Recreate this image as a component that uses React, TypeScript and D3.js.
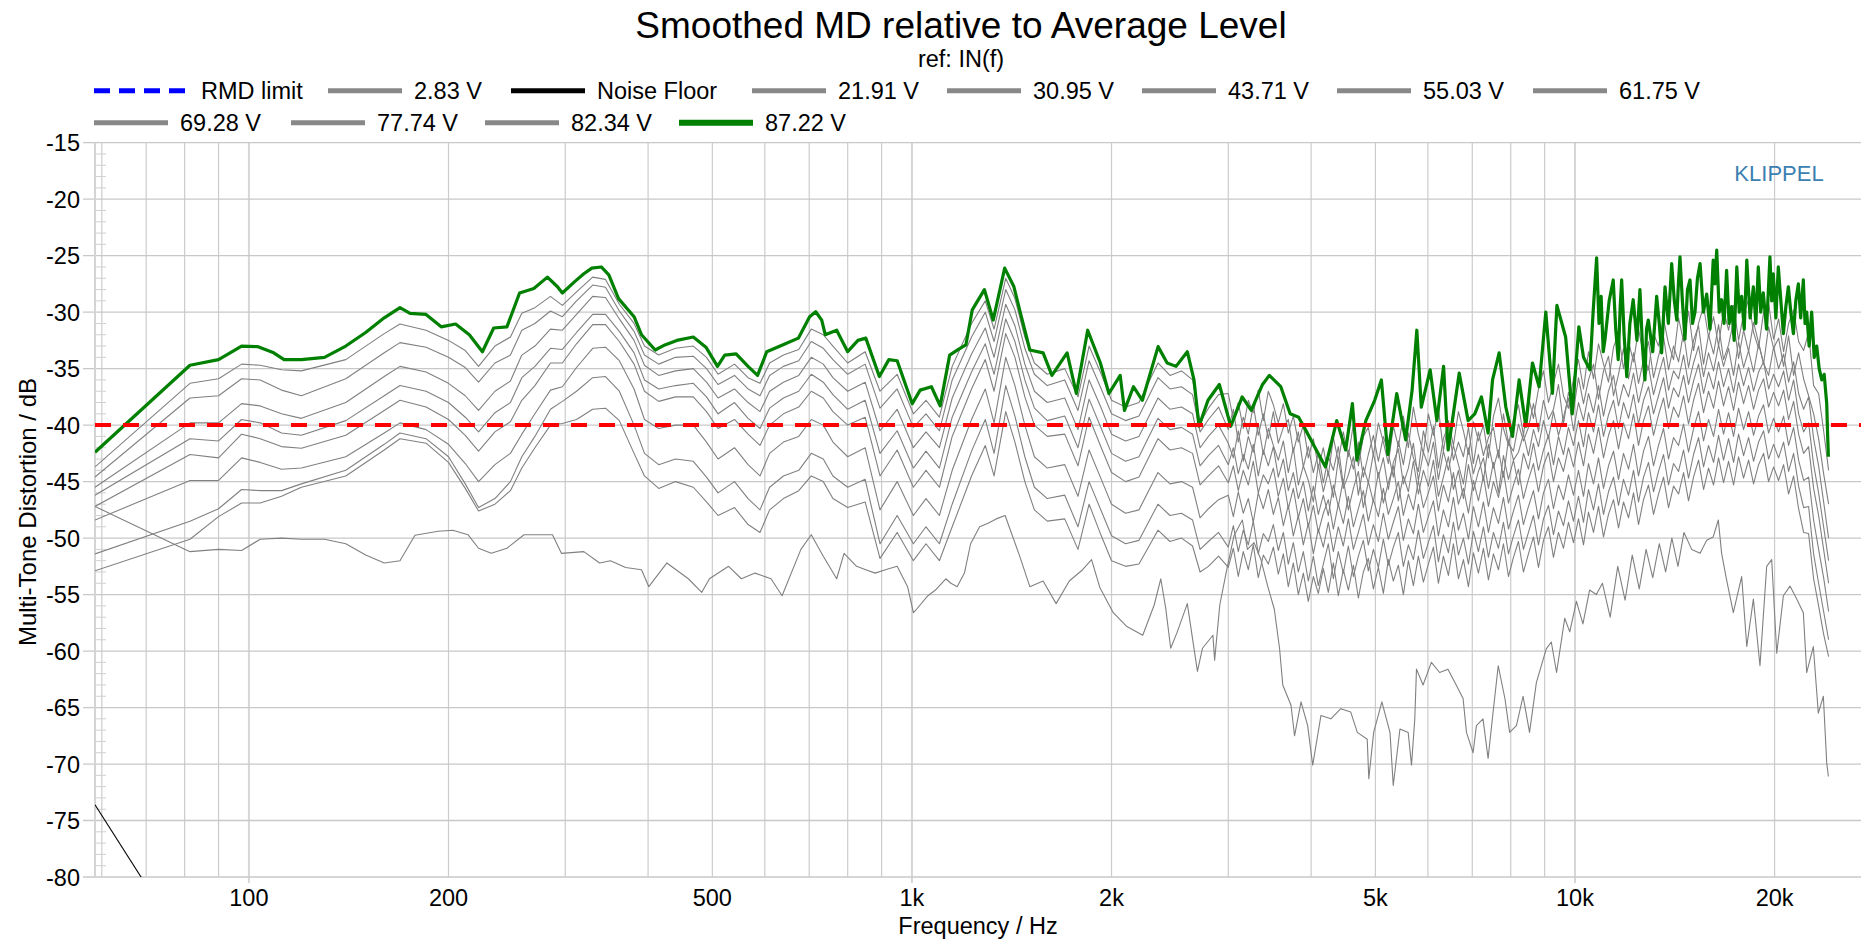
import React from 'react';
import * as d3 from 'd3';

// ---- data ----
const xTickValues = [100, 200, 500, 1000, 2000, 5000, 10000, 20000];
const xTickLabels = ['100', '200', '500', '1k', '2k', '5k', '10k', '20k'];
const xGridValues = [60, 70, 80, 90, 100, 200, 300, 400, 500, 600, 700, 800, 900, 1000, 2000, 3000, 4000, 5000, 6000, 7000, 8000, 9000, 10000, 20000];
const yTickValues = [-15, -20, -25, -30, -35, -40, -45, -50, -55, -60, -65, -70, -75, -80];

const rmdLimit = -40;

const noiseFloor: [number, number][] = [[58.6, -73.6], [70.5, -81]];

const md87_22: [number, number][] = [
  [58.6, -42.4], [81.5, -34.7], [90, -34.2], [97.5, -33.0], [103, -33.05], [109, -33.6], [113, -34.2], [120, -34.2], [130, -34.0], [140, -33.0],
  [150, -31.8], [160, -30.5], [169, -29.6], [175, -30.1], [185, -30.2], [195, -31.3], [205, -31.05], [215, -32.0], [225, -33.5], [234, -31.4],
  [245, -31.3], [256, -28.3], [269, -27.9], [282, -26.9], [292, -27.75], [297, -28.3], [310, -27.3], [320, -26.6], [329, -26.1], [340, -26.0],
  [349, -26.7], [361, -28.8], [381, -30.4], [391, -32.0], [410, -33.35], [424, -32.9], [442, -32.5], [468, -32.2], [489, -33.1], [509, -34.8],
  [522, -33.8], [543, -33.7], [566, -34.8], [585, -35.6], [604, -33.5], [638, -32.9], [674, -32.3], [701, -30.4], [716, -29.96], [731, -30.7],
  [740, -32.0], [770, -31.6], [800, -33.5], [829, -32.5], [852, -32.3], [893, -35.7], [923, -34.2], [950, -34.3], [1001, -38.1], [1029, -36.9],
  [1070, -36.6], [1103, -38.3], [1140, -33.8], [1175, -33.3], [1206, -32.9], [1233, -29.8], [1286, -28.0], [1326, -30.7], [1380, -26.1], [1424, -27.7],
  [1458, -30.1], [1506, -33.35], [1577, -33.6], [1626, -35.6], [1714, -33.6], [1770, -37.2], [1841, -31.6], [1924, -34.5], [1982, -37.2], [2061, -35.6],
  [2092, -38.7], [2158, -36.6], [2226, -37.8], [2351, -33.05], [2426, -34.5], [2502, -34.8], [2602, -33.5], [2663, -36.0], [2710, -40.1], [2796, -37.8],
  [2908, -36.4], [3026, -40.1], [3148, -37.5], [3249, -38.7], [3379, -36.4], [3459, -35.6], [3600, -36.6], [3719, -39.0], [3830, -39.3], [3922, -40.4],
  [4046, -41.9], [4204, -43.7], [4372, -39.6], [4510, -42.2], [4616, -38.1], [4690, -43.1], [4837, -39.6], [4988, -37.8], [5105, -36.0], [5221, -42.6],
  [5385, -37.2], [5554, -41.3], [5680, -36.9], [5774, -31.6], [5864, -38.4], [6047, -35.1], [6190, -39.6], [6336, -34.8], [6437, -42.2], [6689, -35.4],
  [6900, -39.6], [7061, -39.0], [7226, -37.5], [7395, -40.7], [7510, -36.0], [7685, -33.6], [7865, -38.4], [8049, -41.0], [8237, -36.0], [8430, -40.1],
  [8627, -34.5], [8829, -36.6], [9036, -30.0], [9247, -37.2], [9391, -29.4], [9680, -32.2], [9905, -39.0], [10135, -31.3], [10300, -34.0], [10531, -35.1],
  [10650, -30.0], [10780, -25.2], [10870, -31.0], [10950, -28.6], [11030, -33.5], [11100, -32.4], [11260, -29.0], [11420, -27.15], [11520, -31.5], [11620, -34.2],
  [11700, -29.5], [11760, -27.15], [11860, -32.0], [11970, -35.7], [12100, -31.0], [12240, -28.9], [12400, -32.5], [12530, -28.0], [12640, -33.0], [12750, -36.0],
  [12820, -31.5], [12900, -30.7], [13100, -33.5], [13280, -28.6], [13400, -31.0], [13510, -33.6], [13670, -27.75], [13830, -31.0], [13990, -25.7], [14120, -29.0],
  [14240, -30.7], [14320, -27.5], [14400, -25.1], [14520, -29.0], [14650, -32.4], [14780, -28.0], [14910, -27.15], [15040, -31.0], [15170, -30.0], [15300, -27.0],
  [15440, -25.7], [15620, -30.0], [15800, -28.4], [15980, -31.5], [16160, -25.4], [16260, -27.5], [16360, -24.5], [16500, -30.0], [16640, -28.9], [16780, -31.0],
  [16930, -26.3], [17080, -31.0], [17230, -29.5], [17380, -32.5], [17540, -26.0], [17690, -30.0], [17840, -28.6], [18000, -31.5], [18160, -25.4], [18370, -30.5],
  [18580, -27.75], [18740, -31.0], [18900, -26.0], [19060, -30.0], [19230, -28.3], [19450, -31.5], [19680, -25.1], [19800, -29.0], [19910, -26.6], [20090, -30.5],
  [20260, -26.0], [20440, -29.0], [20620, -31.9], [20800, -29.5], [20980, -27.75], [21160, -30.0], [21350, -31.9], [21530, -29.0], [21720, -27.5], [21900, -30.5],
  [22100, -27.15], [22230, -31.0], [22360, -30.0], [22550, -33.0], [22750, -30.0], [22950, -34.0], [23150, -33.0], [23350, -35.0], [23560, -36.0], [23760, -35.5],
  [23970, -38.1], [24050, -41.0], [24110, -42.8],
];

const md2_83: [number, number][] = [
  [58.6, -47.2], [81.5, -51.2], [90, -51.0], [97.5, -51.1], [104, -50.1], [112, -50.0], [120, -50.1], [130, -50.1], [140, -50.5], [150, -51.5],
  [160, -52.2], [169, -52.0], [178, -49.75], [193, -49.4], [203, -49.3], [214, -49.7], [222, -50.9], [232, -51.35], [245, -50.9], [260, -49.7],
  [274, -49.7], [287, -49.7], [296, -51.35], [320, -51.2], [338, -52.2], [351, -52.0], [370, -52.6], [391, -52.8], [401, -54.3], [427, -52.2],
  [460, -53.6], [482, -54.8], [495, -53.6], [529, -52.5], [553, -53.6], [580, -53.1], [613, -53.6], [637, -55.1], [680, -51.0], [705, -49.7],
  [735, -51.6], [770, -53.6], [790, -51.35], [825, -52.5], [852, -52.8], [880, -53.1], [912, -52.8], [950, -52.5], [985, -54.3], [1005, -56.6],
  [1016, -56.3], [1057, -55.1], [1085, -54.6], [1125, -53.6], [1145, -54.0], [1170, -54.3], [1200, -53.1], [1226, -50.5], [1265, -49.0], [1300, -48.7],
  [1340, -48.3], [1382, -48.0], [1450, -51.4], [1506, -54.3], [1577, -53.8], [1650, -55.8], [1727, -53.8], [1809, -52.8], [1866, -51.9], [1921, -54.4],
  [2012, -56.6], [2106, -57.8], [2229, -58.6], [2320, -55.9], [2373, -53.6], [2414, -56.2], [2456, -59.75], [2513, -58.3], [2602, -55.8], [2695, -61.8],
  [2743, -59.75], [2844, -58.6], [2861, -60.8], [2913, -55.9], [2985, -52.75], [3060, -49.8], [3150, -48.4], [3206, -51.0], [3281, -50.4], [3360, -51.9],
  [3440, -54.25], [3520, -56.3], [3585, -59.8], [3625, -63.0], [3730, -64.8], [3776, -67.5], [3862, -64.5], [3952, -66.6], [4022, -70.1], [4139, -65.7],
  [4284, -66.0], [4434, -65.1], [4590, -65.4], [4696, -67.2], [4860, -67.8], [4887, -71.3], [4970, -67.2], [5114, -64.5], [5260, -67.2], [5320, -71.9],
  [5445, -66.9], [5603, -67.2], [5668, -70.1], [5733, -66.0], [5767, -61.6], [5900, -63.0], [6073, -61.0], [6250, -61.9], [6432, -61.6], [6620, -63.0],
  [6780, -64.2], [6860, -67.2], [7020, -69.0], [7101, -66.6], [7266, -66.0], [7395, -69.5], [7525, -65.4], [7660, -61.3], [7840, -64.2], [7970, -67.2],
  [8160, -66.6], [8350, -64.0], [8540, -67.2], [8745, -62.8], [9050, -59.8], [9210, -59.2], [9380, -61.9], [9650, -57.1], [9820, -58.3], [10050, -55.6],
  [10280, -57.6], [10520, -54.6], [10770, -55.0], [11000, -54.0], [11300, -57.0], [11600, -52.5], [11900, -55.5], [12200, -51.5], [12500, -54.5], [12800, -51.0],
  [13100, -53.5], [13400, -50.5], [13700, -53.0], [14000, -50.0], [14300, -52.5], [14600, -49.5], [15000, -51.0], [15440, -51.35], [15800, -50.2], [16160, -49.9],
  [16450, -48.4], [16640, -51.35], [16930, -53.7], [17330, -56.6], [17840, -53.4], [18160, -59.6], [18580, -55.4], [19010, -61.3], [19460, -52.5], [19800, -51.9],
  [20150, -60.2], [20620, -55.1], [21100, -54.25], [21600, -55.4], [22100, -56.6], [22360, -61.9], [22880, -59.6], [23280, -65.5], [23690, -64.0], [23970, -69.9],
  [24110, -71.1],
];

// shared frequency grid of the grey (intermediate voltage) curves
const grayFreqs = [
  58.6, 81.5, 90, 97.5, 104, 112, 120, 140, 160, 169, 185, 200, 212, 222, 235, 248, 258, 270, 285, 297,
  312, 330, 345, 362, 381, 395, 415, 440, 468, 490, 510, 540, 566, 590, 610, 640, 675, 705, 735, 760,
  800, 850, 895, 950, 1005, 1050, 1100, 1150, 1230, 1290, 1330, 1385, 1430, 1480, 1530, 1600, 1700, 1780, 1850, 1930,
  2000, 2100, 2200, 2350, 2450, 2550, 2650, 2720, 2800, 2900,
  3000, 3053, 3106, 3160, 3216, 3272, 3329, 3388, 3447, 3508, 3569, 3632, 3695, 3760, 3826, 3893, 3961, 4031, 4101, 4173,
  4246, 4321, 4396, 4473, 4552, 4632, 4713, 4795, 4879, 4965, 5052, 5140, 5230, 5322, 5415, 5510, 5607, 5705, 5805, 5907,
  6010, 6116, 6223, 6332, 6443, 6556, 6671, 6788, 6907, 7028, 7151, 7276, 7404, 7534, 7666, 7800, 7937, 8076, 8217, 8361,
  8508, 8657, 8809, 8963, 9120, 9280, 9443, 9608, 9776, 9948, 10122, 10300, 10480, 10664, 10851, 11041, 11234, 11431, 11632, 11835,
  12043, 12254, 12469, 12687, 12909, 13136, 13366, 13600, 13838, 14081, 14328, 14579, 14834, 15094, 15358, 15628, 15901, 16180, 16464, 16752,
  17046, 17345, 17649, 17958, 18273, 18593, 18919, 19250, 19588, 19931, 20280, 20636, 20997, 21365, 21740, 22121, 22508, 22903, 23304, 23713,
  24128,
];

const md82_34 = [
  -43.7, -36.3, -35.9, -34.6, -34.7, -35.1, -35.2, -34.2, -31.9, -31.05, -31.6, -32.5, -33.4, -34.8, -33.0, -32.2, -30.1, -29.6, -28.6, -29.4,
  -28.2, -26.9, -27.1, -29.3, -31.0, -33.0, -33.8, -33.2, -33.0, -34.0, -35.5, -34.6, -35.8, -36.3, -34.5, -33.8, -33.3, -31.5, -32.0, -33.0,
  -34.5, -33.5, -37.0, -35.5, -39.0, -37.8, -39.3, -34.8, -31.0, -29.0, -31.5, -27.0, -28.8, -32.2, -34.5, -35.5, -35.0, -37.5, -33.0, -35.5,
  -37.8, -38.4, -38.0, -34.5, -35.6, -35.2, -36.0, -39.8, -38.5, -37.3,
  -37.2, -39.5, -38.0, -40.3, -37.8, -38.9, -36.9, -39.6, -37.0, -38.2, -39.8, -38.1, -40.7, -39.2, -41.5, -40.0, -42.9, -41.2, -43.8, -42.0,
  -44.5, -41.1, -43.2, -40.6, -42.8, -39.9, -43.6, -41.0, -40.2, -42.7, -39.8, -41.5, -43.4, -40.1, -41.9, -39.2, -42.0, -38.4, -40.8, -42.5,
  -39.0, -40.9, -38.5, -42.3, -39.6, -41.8, -38.8, -40.5, -42.6, -39.7, -41.4, -40.0, -42.9, -39.2, -37.6, -40.3, -41.8, -39.5, -38.2, -40.9,
  -37.5, -39.4, -36.8, -35.2, -38.0, -36.3, -34.6, -37.4, -38.5, -35.9, -34.2, -36.8, -33.5, -35.9, -32.8, -34.6, -36.2, -33.1, -31.9, -35.0,
  -32.6, -34.4, -31.5, -33.8, -35.1, -31.9, -33.0, -30.6, -32.8, -34.2, -30.5, -32.6, -29.9, -33.4, -31.0, -29.5, -32.2, -30.4, -33.0, -29.8,
  -31.6, -29.4, -32.5, -30.2, -28.9, -31.8, -33.2, -30.0, -29.2, -32.4, -30.6, -33.5, -31.0, -29.8, -32.6, -33.4, -31.8, -36.5, -37.2, -40.5,
  -44.0,
];

const md77_74 = [
  -44.6, -37.6, -37.4, -35.9, -36.0, -36.9, -37.4, -35.9, -33.6, -32.7, -33.1, -34.0, -34.9, -36.2, -34.5, -33.8, -31.6, -31.0, -29.9, -30.4,
  -29.0, -27.6, -27.8, -29.9, -31.7, -33.8, -34.6, -34.0, -33.9, -35.0, -36.4, -35.6, -36.8, -37.4, -35.6, -34.8, -34.3, -32.6, -33.2, -34.2,
  -35.5, -34.6, -38.5, -36.8, -40.2, -39.0, -40.5, -36.0, -32.2, -30.0, -32.6, -28.0, -29.8, -33.2, -35.5, -36.5, -36.0, -38.7, -34.3, -36.8,
  -39.0, -39.6, -39.2, -35.8, -36.8, -36.6, -37.3, -40.6, -39.5, -38.4,
  -40.4, -38.6, -41.5, -39.3, -40.8, -38.2, -40.9, -39.0, -41.2, -38.8, -41.6, -40.2, -39.5, -42.4, -40.6, -43.7, -41.9, -44.2, -42.5, -45.1,
  -42.8, -44.0, -41.9, -45.3, -42.2, -43.9, -41.5, -44.6, -42.6, -40.9, -43.2, -41.0, -42.5, -44.6, -41.4, -43.5, -40.7, -42.9, -44.1, -40.5,
  -42.4, -40.1, -43.8, -41.2, -40.0, -43.1, -41.5, -42.8, -40.2, -43.4, -40.6, -42.7, -41.1, -40.2, -42.9, -39.0, -41.6, -42.3, -39.9, -41.4,
  -40.2, -38.1, -40.6, -37.8, -39.5, -38.6, -36.4, -39.9, -37.1, -38.7, -35.8, -38.1, -36.0, -34.6, -37.7, -35.2, -33.9, -37.4, -35.5, -33.2,
  -35.9, -33.6, -36.3, -34.2, -32.6, -35.8, -33.9, -32.2, -35.1, -33.0, -34.4, -31.8, -34.9, -32.5, -31.2, -34.6, -32.0, -33.7, -31.1, -34.2,
  -32.9, -30.8, -34.1, -31.6, -33.5, -30.9, -32.7, -34.6, -31.3, -33.2, -32.3, -34.8, -32.1, -35.6, -33.6, -35.9, -37.4, -39.0, -41.2, -44.3,
  -47.0,
];

const md69_28 = [
  -45.5, -39.8, -39.8, -38.1, -38.3, -39.0, -39.4, -38.0, -35.7, -34.8, -35.3, -36.3, -37.4, -38.7, -37.0, -36.1, -33.8, -33.0, -31.5, -31.6,
  -30.2, -28.6, -28.7, -30.6, -32.5, -34.7, -35.6, -35.2, -35.0, -36.2, -37.6, -36.8, -38.0, -38.8, -37.0, -36.2, -35.6, -34.0, -34.6, -35.8,
  -37.0, -36.2, -40.5, -38.6, -42.0, -40.6, -42.0, -37.6, -33.7, -31.4, -34.0, -29.3, -31.2, -34.6, -37.0, -38.0, -37.6, -40.4, -36.0, -38.5,
  -40.8, -41.4, -41.0, -37.6, -38.6, -38.4, -39.0, -42.0, -41.0, -40.0,
  -41.6, -42.9, -40.5, -43.2, -41.0, -42.4, -39.9, -42.6, -40.3, -41.8, -43.1, -41.4, -44.2, -42.0, -45.3, -43.6, -44.9, -46.8, -43.5, -45.9,
  -44.1, -46.4, -43.0, -45.6, -44.4, -42.8, -46.2, -43.7, -45.1, -42.5, -44.6, -42.9, -45.7, -43.3, -42.1, -45.2, -43.8, -41.6, -44.9, -42.4,
  -43.6, -41.5, -44.8, -42.3, -44.0, -41.8, -43.5, -45.2, -42.0, -44.3, -42.6, -44.9, -41.7, -43.8, -42.2, -44.6, -41.3, -43.1, -42.4, -40.8,
  -42.7, -40.4, -41.9, -39.6, -41.2, -38.8, -40.9, -39.3, -37.6, -40.5, -38.0, -39.6, -37.2, -38.9, -36.5, -39.2, -37.0, -35.6, -38.3, -36.4,
  -37.5, -35.4, -38.0, -36.1, -34.8, -37.3, -35.6, -34.0, -36.9, -35.2, -35.9, -33.8, -36.4, -34.5, -33.0, -35.7, -33.6, -35.2, -32.9, -34.8,
  -33.2, -35.6, -32.6, -34.9, -33.4, -35.3, -32.8, -34.5, -35.6, -33.1, -35.0, -33.7, -36.2, -34.4, -37.2, -38.6, -37.5, -41.2, -43.6, -46.8,
  -50.0,
];

const md61_75 = [
  -46.2, -41.2, -41.4, -39.5, -39.8, -40.7, -40.9, -39.6, -37.4, -36.5, -37.0, -38.0, -39.3, -40.6, -38.9, -38.0, -35.8, -34.8, -33.2, -33.3,
  -31.8, -30.2, -30.2, -31.7, -33.6, -36.0, -36.8, -36.5, -36.3, -37.5, -39.0, -38.0, -39.4, -40.3, -38.5, -37.6, -37.0, -35.5, -36.2, -37.3,
  -38.6, -37.8, -42.5, -40.5, -43.8, -42.3, -43.8, -39.3, -35.3, -32.8, -35.5, -30.6, -32.6, -36.0, -38.5, -39.6, -39.2, -42.0, -37.7, -40.3,
  -42.5, -43.2, -42.8, -39.4, -40.4, -40.2, -40.8, -43.6, -42.7, -41.8,
  -43.5, -42.0, -44.3, -42.6, -43.9, -41.7, -44.5, -42.2, -43.6, -41.9, -44.6, -43.0, -45.8, -44.2, -46.5, -45.0, -47.6, -45.4, -47.9, -46.2,
  -48.0, -45.3, -47.2, -44.8, -47.5, -45.6, -44.1, -47.3, -45.0, -46.8, -44.2, -46.9, -45.1, -43.6, -46.7, -44.5, -45.9, -43.2, -46.1, -44.0,
  -45.4, -43.1, -46.3, -44.6, -42.8, -45.7, -44.0, -46.5, -43.5, -45.8, -44.1, -42.9, -45.6, -43.3, -46.0, -42.7, -44.8, -43.1, -45.3, -42.5,
  -43.9, -41.6, -44.0, -42.2, -40.9, -43.5, -41.0, -42.6, -40.2, -41.8, -39.6, -41.9, -38.9, -40.6, -38.2, -41.0, -39.1, -37.8, -40.3, -38.0,
  -39.4, -37.3, -39.9, -37.8, -36.6, -39.0, -37.4, -35.8, -38.5, -36.7, -37.5, -35.6, -38.0, -36.1, -34.6, -37.2, -35.3, -36.8, -34.4, -36.6,
  -35.0, -37.1, -34.6, -36.5, -34.9, -37.0, -35.3, -34.4, -36.8, -35.5, -36.6, -35.2, -37.8, -36.0, -39.0, -40.6, -39.8, -43.5, -46.0, -49.0,
  -52.0,
];

const md55_03 = [
  -47.2, -42.6, -42.9, -40.8, -41.2, -41.9, -42.05, -40.9, -38.7, -37.8, -38.4, -39.5, -40.9, -42.3, -40.6, -39.7, -37.8, -36.5, -34.5, -34.5,
  -32.8, -31.1, -31.1, -32.6, -34.6, -37.0, -37.9, -37.5, -37.5, -38.8, -40.3, -39.5, -40.8, -41.8, -40.0, -39.0, -38.4, -37.0, -37.6, -38.8,
  -40.0, -39.3, -44.5, -42.2, -45.5, -44.0, -45.5, -41.0, -36.8, -34.2, -37.0, -31.9, -34.0, -37.5, -40.0, -41.0, -40.8, -43.6, -39.3, -42.0,
  -44.2, -45.0, -44.6, -41.2, -42.2, -42.0, -42.5, -45.3, -44.5, -43.6,
  -45.1, -43.6, -45.8, -44.0, -45.3, -43.2, -46.0, -44.4, -45.2, -43.8, -46.3, -44.7, -47.4, -45.6, -48.2, -46.5, -49.0, -47.1, -49.5, -47.8,
  -46.6, -49.2, -47.0, -48.7, -46.3, -49.0, -47.4, -45.8, -48.5, -46.6, -48.1, -45.6, -47.9, -46.5, -45.0, -48.0, -46.1, -47.5, -44.9, -47.3,
  -46.0, -44.5, -47.6, -45.3, -46.8, -44.2, -47.0, -45.6, -47.8, -44.9, -46.7, -44.5, -47.2, -45.0, -46.4, -44.1, -46.9, -45.3, -43.9, -46.5,
  -44.8, -43.4, -45.9, -43.6, -42.4, -45.0, -42.9, -44.1, -42.0, -43.7, -41.5, -43.6, -40.8, -42.5, -40.2, -42.9, -40.9, -39.6, -42.1, -39.8,
  -41.2, -39.0, -41.8, -39.6, -38.3, -40.9, -39.1, -37.6, -40.3, -38.4, -39.3, -37.4, -39.9, -37.8, -36.3, -38.9, -37.0, -38.5, -36.1, -38.3,
  -36.6, -38.7, -36.2, -38.1, -36.5, -38.6, -36.9, -35.9, -38.4, -37.1, -38.3, -36.9, -39.5, -37.9, -40.8, -42.5, -41.9, -45.6, -48.0, -51.0,
  -54.0,
];

const md43_71 = [
  -48.4, -44.9, -44.9, -42.9, -43.3, -43.9, -43.8, -42.8, -40.7, -39.8, -40.4, -41.7, -43.4, -45.0, -43.5, -42.5, -40.8, -39.0, -36.9, -36.6,
  -34.9, -33.2, -33.1, -34.3, -36.8, -39.5, -40.3, -40.0, -40.0, -41.5, -43.0, -42.0, -43.5, -44.5, -42.5, -41.5, -41.0, -39.5, -40.0, -41.5,
  -42.8, -42.0, -47.5, -45.0, -48.0, -46.5, -48.0, -44.0, -39.5, -36.8, -39.8, -34.0, -36.5, -40.0, -42.8, -43.8, -43.5, -46.3, -42.2, -44.8,
  -47.0, -47.8, -47.5, -44.2, -45.2, -45.0, -45.5, -48.2, -47.4, -46.6,
  -46.2, -48.1, -45.9, -47.8, -46.5, -48.6, -46.0, -47.4, -45.7, -47.9, -46.4, -48.9, -47.1, -49.8, -48.0, -50.6, -48.7, -51.4, -49.2, -50.8,
  -48.6, -51.2, -49.0, -50.7, -48.3, -51.0, -49.5, -47.9, -50.6, -48.8, -50.3, -47.8, -50.1, -48.6, -47.2, -50.2, -48.3, -49.6, -47.0, -49.5,
  -48.1, -46.7, -49.8, -47.5, -49.0, -46.4, -49.3, -47.8, -50.1, -47.2, -49.0, -46.8, -49.5, -47.3, -48.7, -46.4, -49.2, -47.6, -46.2, -48.8,
  -47.2, -45.8, -48.3, -46.0, -44.8, -47.4, -45.3, -46.6, -44.4, -46.2, -44.0, -46.3, -43.4, -45.2, -42.9, -45.6, -43.6, -42.3, -44.8, -42.5,
  -43.9, -41.7, -44.5, -42.3, -41.0, -43.6, -41.8, -40.3, -43.0, -41.1, -41.8, -39.9, -42.4, -40.3, -38.8, -41.4, -39.5, -41.0, -38.6, -40.8,
  -38.9, -41.0, -38.5, -40.4, -38.8, -40.9, -39.2, -38.2, -40.7, -39.4, -40.6, -39.2, -41.8, -40.2, -43.1, -44.9, -44.6, -48.4, -51.0, -53.5,
  -56.5,
];

const md30_95 = [
  -51.4, -48.5, -47.4, -45.7, -45.8, -45.8, -45.2, -44.0, -41.7, -40.7, -41.2, -42.8, -45.2, -47.3, -46.5, -45.0, -42.8, -41.0, -38.6, -37.9,
  -37.0, -35.8, -35.7, -37.0, -40.0, -42.5, -43.5, -43.0, -43.2, -44.6, -46.0, -45.0, -46.5, -47.5, -45.5, -44.5, -44.0, -42.5, -43.0, -44.5,
  -45.5, -44.8, -50.5, -48.0, -50.5, -49.0, -50.5, -47.0, -42.3, -39.5, -42.5, -36.5, -39.2, -42.8, -45.5, -46.5, -46.2, -49.0, -45.0, -47.6,
  -49.8, -50.5, -50.2, -47.0, -48.0, -47.8, -48.4, -51.0, -50.3, -49.5,
  -50.8, -48.9, -51.2, -49.3, -50.6, -48.5, -51.4, -49.6, -50.3, -48.8, -51.1, -49.5, -52.3, -50.4, -53.0, -51.2, -53.8, -51.6, -54.2, -52.3,
  -50.5, -53.6, -51.2, -53.1, -50.7, -53.4, -51.6, -50.2, -52.9, -51.0, -52.6, -50.1, -52.4, -50.8, -49.5, -52.5, -50.6, -51.9, -49.3, -51.8,
  -50.4, -48.9, -52.1, -49.7, -51.3, -48.6, -51.5, -50.0, -52.3, -49.4, -51.2, -49.0, -51.7, -49.5, -50.9, -48.6, -51.4, -49.8, -48.4, -51.0,
  -49.5, -48.0, -50.6, -48.3, -47.1, -49.7, -47.6, -48.9, -46.7, -48.5, -46.3, -48.6, -45.7, -47.5, -45.2, -47.9, -45.9, -44.6, -47.1, -44.8,
  -46.2, -44.0, -46.8, -44.6, -43.3, -45.9, -44.1, -42.6, -45.3, -43.4, -44.1, -42.2, -44.7, -42.6, -41.1, -43.7, -41.8, -43.3, -40.9, -43.1,
  -41.2, -43.3, -40.8, -42.7, -41.1, -43.2, -41.5, -40.5, -43.0, -41.7, -42.9, -41.5, -44.1, -42.5, -45.4, -47.3, -47.2, -51.4, -54.0, -56.5,
  -59.0,
];

const md21_91 = [
  -52.9, -50.1, -48.1, -46.9, -46.9, -46.3, -45.5, -44.5, -42.2, -41.2, -41.6, -43.3, -45.6, -47.6, -47.0, -45.8, -43.8, -42.0, -40.0, -39.85,
  -39.5, -38.6, -38.5, -39.6, -42.5, -44.5, -45.6, -45.0, -45.5, -46.8, -48.0, -47.3, -48.8, -49.5, -47.5, -46.5, -45.8, -44.5, -45.0, -46.5,
  -47.3, -46.8, -51.8, -49.5, -52.0, -50.5, -52.0, -49.0, -44.5, -41.8, -44.5, -38.8, -41.5, -45.0, -47.5, -48.5, -48.3, -51.0, -47.0, -49.8,
  -52.0, -52.5, -52.3, -49.3, -50.3, -50.0, -50.7, -53.0, -52.5, -51.6,
  -52.6, -50.9, -53.4, -51.2, -52.8, -50.6, -53.5, -51.5, -52.3, -50.8, -53.2, -51.4, -54.3, -52.2, -55.0, -53.1, -55.6, -53.4, -54.9, -52.7,
  -54.8, -52.2, -55.1, -52.8, -54.6, -52.4, -55.3, -53.0, -51.8, -54.5, -52.6, -54.9, -51.9, -53.8, -52.4, -55.0, -52.0, -54.2, -51.6, -53.9,
  -52.3, -50.8, -54.0, -51.6, -53.3, -50.5, -53.6, -51.9, -54.3, -51.3, -53.1, -50.9, -53.7, -51.4, -52.8, -50.5, -53.4, -51.7, -50.3, -53.0,
  -51.4, -49.9, -52.6, -50.2, -49.0, -51.7, -49.5, -50.9, -48.6, -50.4, -48.3, -50.6, -47.7, -49.5, -47.2, -49.9, -47.9, -46.6, -49.1, -46.8,
  -48.2, -46.0, -48.8, -46.6, -45.3, -47.9, -46.1, -44.6, -47.3, -45.4, -46.1, -44.2, -46.7, -44.6, -43.1, -45.7, -43.8, -45.3, -42.9, -45.1,
  -43.2, -45.3, -42.8, -44.7, -43.1, -45.2, -43.5, -42.5, -45.0, -43.7, -44.9, -43.5, -46.1, -44.5, -47.4, -49.5, -49.6, -53.6, -56.0, -58.5,
  -60.5,
];

// drawing order = legend order (grey curves between the 2.83 V curve and the top level)
const grayLevels = [md21_91, md30_95, md43_71, md55_03, md61_75, md69_28, md77_74, md82_34];

const legendRow1 = ['RMD limit', '2.83 V', 'Noise Floor', '21.91 V', '30.95 V', '43.71 V', '55.03 V', '61.75 V'];
const legendRow2 = ['69.28 V', '77.74 V', '82.34 V', '87.22 V'];

// ---- layout ----
const W = 1861;
const H = 950;
const plot = { left: 95, right: 1861, top: 142.7, bottom: 877 };
const FONT = "'Liberation Sans', Arial, Helvetica, sans-serif";
const legendRow1X = [94, 328, 511, 752, 947, 1142, 1337, 1533];
const legendRow2X = [94, 291, 485, 679];

const legendStyle: Record<string, { color: string; dash?: string; len: number }> = {
  'RMD limit': { color: '#0000ff', dash: '16 9', len: 95 },
  'Noise Floor': { color: '#000000', len: 74 },
  '87.22 V': { color: '#008000', len: 74 },
};

const App: React.FC = () => {
  const x = d3.scaleLog().domain([58.6, 27000]).range([plot.left, plot.right]);
  const y = d3.scaleLinear().domain([-80, -15]).range([plot.bottom, plot.top]);

  const line = d3.line<[number, number]>()
    .x(d => x(d[0]))
    .y(d => y(d[1]));

  const grayPaths = grayLevels.map(vals =>
    line(grayFreqs.map((f, i) => [f, vals[i]] as [number, number]).filter(d => d[1] !== undefined)) || ''
  );

  const minorY = d3.range(-80, -15).filter(v => v % 5 !== 0);

  const legendItem = (label: string, lx: number, ly: number) => {
    const st = legendStyle[label] || { color: '#888888', len: 74 };
    return (
      <g key={label}>
        <line x1={lx} x2={lx + st.len} y1={ly} y2={ly} stroke={st.color} strokeWidth={label === '87.22 V' ? 6 : 5}
          strokeDasharray={st.dash} />
        <text x={lx + st.len + 12} y={ly + 8.5} fontSize={23.5} fill="#000">{label}</text>
      </g>
    );
  };

  return (
    <div style={{ position: 'absolute', left: 0, top: 0, width: W, height: H, background: '#fff' }}>
      <svg width={W} height={H} viewBox={`0 0 ${W} ${H}`} fontFamily={FONT}>
        <defs>
          <clipPath id="plotClip">
            <rect x={plot.left} y={plot.top} width={plot.right - plot.left} height={plot.bottom - plot.top} />
          </clipPath>
        </defs>
        <rect width={W} height={H} fill="#fff" />

        {/* title */}
        <text x={961} y={38} textAnchor="middle" fontSize={37} fill="#000">Smoothed MD relative to Average Level</text>
        <text x={961} y={67} textAnchor="middle" fontSize={23.5} fill="#000">ref: IN(f)</text>

        {/* legend */}
        {legendRow1.map((l, i) => legendItem(l, legendRow1X[i], 90.7))}
        {legendRow2.map((l, i) => legendItem(l, legendRow2X[i], 122.7))}

        {/* grid */}
        {xGridValues.map(v => {
          const decade = v === 100 || v === 1000 || v === 10000;
          return (
            <line key={'gx' + v} x1={x(v)} x2={x(v)} y1={plot.top} y2={decade ? plot.bottom + 6 : plot.bottom}
              stroke={decade ? '#d6d6d6' : '#cccccc'} strokeWidth={decade ? 2 : 1.2} />
          );
        })}
        {yTickValues.map(v => (
          <line key={'gy' + v} x1={83} x2={plot.right} y1={y(v)} y2={y(v)} stroke="#c8c8c8" strokeWidth={1.3} />
        ))}
        {minorY.map(v => (
          <line key={'my' + v} x1={plot.left} x2={plot.left + 11} y1={y(v)} y2={y(v)} stroke="#d0d0d0" strokeWidth={1} />
        ))}
        <line x1={plot.left} x2={plot.left} y1={plot.top} y2={plot.bottom} stroke="#d4d4d4" strokeWidth={2} />

        {/* tick labels */}
        {yTickValues.map(v => (
          <text key={'ty' + v} x={80} y={y(v) + 8.5} textAnchor="end" fontSize={23.5} fill="#000">{v}</text>
        ))}
        {xTickValues.map((v, i) => (
          <text key={'tx' + v} x={x(v)} y={906} textAnchor="middle" fontSize={23.5} fill="#000">{xTickLabels[i]}</text>
        ))}
        <text x={978} y={934} textAnchor="middle" fontSize={23.5} fill="#000">Frequency / Hz</text>
        <text transform={`translate(36, 512) rotate(-90)`} textAnchor="middle" fontSize={24} fill="#000">Multi-Tone Distortion / dB</text>

        <text x={1779} y={181} textAnchor="middle" fontSize={22} fill="#3c7fb1">KLIPPEL</text>

        {/* curves */}
        <g clipPath="url(#plotClip)" fill="none" strokeLinejoin="round">
          <path d={line(md2_83) || ''} stroke="#808080" strokeWidth={1.1} />
          <path d={line(noiseFloor) || ''} stroke="#000" strokeWidth={1.1} />
          {grayPaths.map((d, i) => (
            <path key={'g' + i} d={d} stroke="#808080" strokeWidth={1.1} />
          ))}
          <path d={line(md87_22) || ''} stroke="#008000" strokeWidth={3.2} />
          <line x1={plot.left} x2={plot.right} y1={y(rmdLimit)} y2={y(rmdLimit)} stroke="#ff0000" strokeWidth={4}
            strokeDasharray="16 12" />
        </g>
      </svg>
    </div>
  );
};

export default App;
